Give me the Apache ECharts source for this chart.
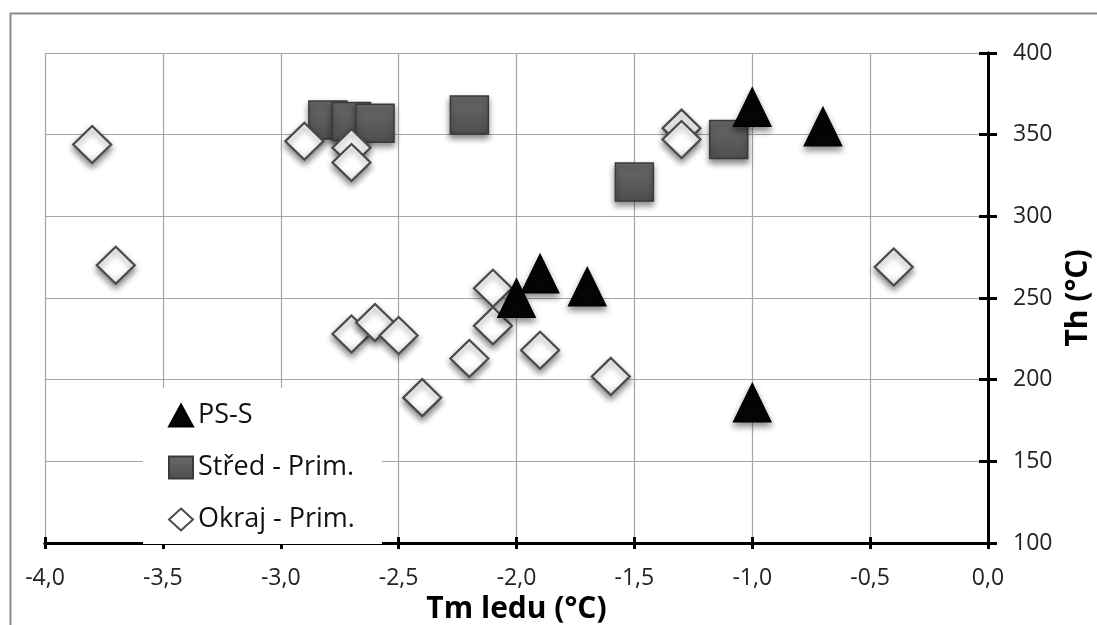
<!DOCTYPE html>
<html>
<head>
<meta charset="utf-8">
<script src="https://cdn.jsdelivr.net/npm/echarts@6/dist/echarts.min.js"></script>
<style>
    html, body { margin: 0; padding: 0; background: #fff; }
    #chart { width: 1097px; height: 625px; }
</style>
</head>
<body>
<div id="chart"></div>
<script>
// PS-S
const psX = [-1.0, -0.7, -1.9, -2.0, -1.7, -1.0];
const psY = [367, 355, 265, 250, 257, 186];
// Střed - Prim.
const stredX = [-2.8, -2.7, -2.6, -2.2, -1.5, -1.1];
const stredY = [359, 358, 357, 362, 321, 347];
// Okraj - Prim.
const okrajX = [-3.8, -3.7, -2.9, -2.7, -2.7, -2.7, -2.6, -2.5, -2.4, -2.2, -2.1, -2.1, -1.9, -1.6, -1.3, -1.3, -0.4];
const okrajY = [344, 270, 346, 342, 333, 228, 235, 227, 189, 213, 256, 233, 218, 202, 354, 347, 269];

const seriesNames = ["PS-S", "Střed - Prim.", "Okraj - Prim."];
const xTicks = { min: -4, max: 0, step: 0.5 };
const yTicks = { min: 100, max: 400, step: 50 };

const pairs = (xs, ys) => xs.map((x, i) => [x, ys[i]]);

const shadow = {
    opacity: 1,
    shadowColor: "rgba(0,0,0,0.45)",
    shadowBlur: 6,
    shadowOffsetY: 4,
};

const font = "'Open Sans', 'Noto Sans', sans-serif";

const chart = echarts.init(document.getElementById("chart"), null, { renderer: "canvas" });

//坐标轴公共部分
const axisLine = { show: true, onZero: false, lineStyle: { color: "#000", width: 3 } };
const splitLine = { show: true, lineStyle: { color: "#a6a6a6", width: 1.2 } };

const options = {
    backgroundColor: "#fff",
    animation: false,
    textStyle: { fontFamily: font },
    grid: { left: 45, right: 109, top: 53, bottom: 82, outerBoundsMode: "none", containLabel: false },
    graphic: [{
        type: "rect",
        left: 8, top: 11,
        shape: { width: 1200, height: 700 },
        style: { fill: null, stroke: "#8a8a8a", lineWidth: 2 },
        silent: true,
        z: -10,
    }],
    legend: {
        orient: "vertical",
        left: 143,
        top: 388,
        padding: [14, 27, 11, 25],
        backgroundColor: "#fff",
        itemWidth: 24,
        itemHeight: 22,
        itemGap: 25,
        textStyle: { fontFamily: font, fontSize: 27, color: "#111", lineHeight: 24, padding: [0, 0, 0, 0] },
        itemStyle: { opacity: 1, shadowBlur: 0, shadowOffsetY: 0, shadowColor: "transparent" },
        data: [
            { name: seriesNames[0], icon: "triangle" },
            { name: seriesNames[1], icon: "rect" },
            { name: seriesNames[2], icon: "diamond" },
        ],
        z: 10,
    },
    xAxis: [
        {
            type: "value",
            min: xTicks.min, max: xTicks.max, interval: xTicks.step,
            position: "bottom",
            axisLine: axisLine,
            axisTick: { show: true, inside: false, length: 6, lineStyle: { color: "#000", width: 3 } },
            axisLabel: {
                margin: 24, fontSize: 23, color: "#222", fontFamily: font,
                formatter: v => v.toFixed(1).replace(".", ","),
            },
            splitLine: splitLine,
            name: "Tm ledu (°C)",
            nameLocation: "middle",
            nameGap: 45,
            nameTextStyle: { fontSize: 30, fontWeight: "bold", color: "#000", fontFamily: font },
        },
        {
            // cross ticks, inner half
            type: "value",
            min: xTicks.min, max: xTicks.max, interval: xTicks.step,
            position: "bottom",
            axisLine: axisLine,
            axisTick: { show: true, inside: true, length: 6, lineStyle: { color: "#000", width: 3 } },
            axisLabel: { show: false },
            splitLine: { show: false },
        },
    ],
    yAxis: [
        {
            type: "value",
            min: yTicks.min, max: yTicks.max, interval: yTicks.step,
            position: "right",
            axisLine: axisLine,
            axisTick: { show: true, inside: false, length: 9, lineStyle: { color: "#000", width: 3 } },
            axisLabel: { margin: 25, fontSize: 23, color: "#222", fontFamily: font },
            splitLine: splitLine,
            name: "Th (°C)",
            nameLocation: "middle",
            nameRotate: 90,
            nameGap: 71,
            nameTextStyle: { fontSize: 30, fontWeight: "bold", color: "#000", fontFamily: font },
        },
        {
            type: "value",
            min: yTicks.min, max: yTicks.max, interval: yTicks.step,
            position: "right",
            offset: 0,
            axisLine: axisLine,
            axisTick: { show: true, inside: true, length: 9, lineStyle: { color: "#000", width: 3 } },
            axisLabel: { show: false },
            splitLine: { show: false },
        },
    ],
    series: [
        {
            name: seriesNames[0],
            type: "scatter",
            symbol: "triangle",
            symbolSize: [38, 39],
            data: pairs(psX, psY),
            z: 4,
            itemStyle: Object.assign({ color: "#050505", borderColor: "#000", borderWidth: 1 }, shadow),
        },
        {
            name: seriesNames[1],
            type: "scatter",
            symbol: "rect",
            symbolSize: 38,
            data: pairs(stredX, stredY),
            z: 2,
            itemStyle: Object.assign({
                color: new echarts.graphic.LinearGradient(0, 0, 0, 1, [
                    { offset: 0, color: "#6a6a6a" },
                    { offset: 0.5, color: "#5c5c5c" },
                    { offset: 1, color: "#4e4e4e" },
                ]),
                borderColor: "#3a3a3a", borderWidth: 1.5,
            }, shadow),
        },
        {
            name: seriesNames[2],
            type: "scatter",
            symbol: "diamond",
            symbolSize: [38, 37],
            data: pairs(okrajX, okrajY),
            z: 3,
            itemStyle: Object.assign({
                color: new echarts.graphic.LinearGradient(0, 0, 0, 1, [
                    { offset: 0, color: "#ffffff" },
                    { offset: 0.65, color: "#ffffff" },
                    { offset: 1, color: "#e8e8e8" },
                ]),
                borderColor: "#4a4a4a", borderWidth: 2.2,
            }, shadow),
        },
    ],
};

chart.setOption(options);
</script>
</body>
</html>
